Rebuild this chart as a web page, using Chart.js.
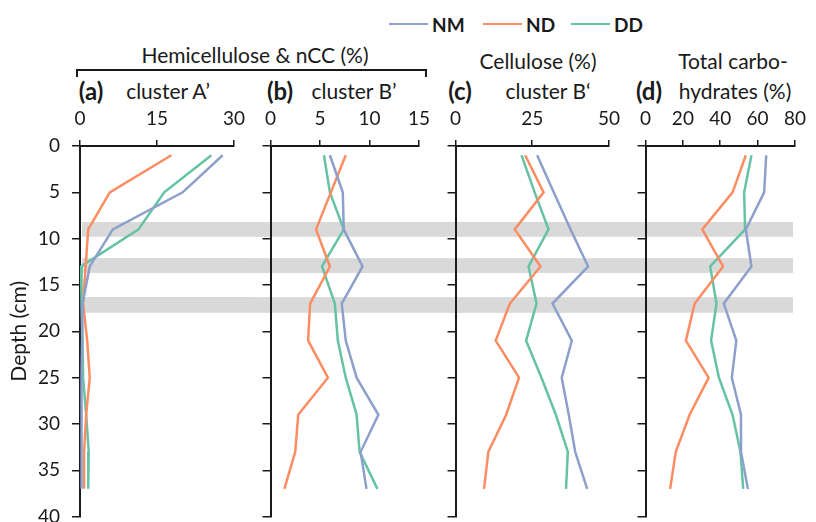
<!DOCTYPE html>
<html>
<head>
<meta charset="utf-8">
<script src="https://cdn.jsdelivr.net/npm/chart.js@4/dist/chart.umd.min.js"></script>
<style>
    body { margin: 0; background: #fff; font-family: Lato, sans-serif; color: #1a1a1a; }
    #wrap { position: relative; width: 816px; height: 522px; overflow: hidden; }
    #wrap canvas { position: absolute; top: 0; }
    .t { position: absolute; white-space: nowrap; font-size: 21px; line-height: 24px; transform: translate(-50%, -50%); }
    .b { font-weight: bold; font-size: 24px; }
    .lg { position: absolute; top: 12px; height: 24px; display: flex; align-items: center; font-weight: bold; font-size: 19px; }
    .lg i { display: inline-block; width: 39px; height: 0; border-top: 2.5px solid; margin-right: 4px; }
    #bracket { position: absolute; left: 76px; top: 69px; width: 347px; height: 6px; border: 2px solid #1a1a1a; border-bottom: none; }
</style>
</head>
<body>
<div id="wrap">
    <div class="lg" style="left:389px"><i style="border-color:#8DA0CB"></i>NM</div>
    <div class="lg" style="left:483px"><i style="border-color:#FC8D62"></i>ND</div>
    <div class="lg" style="left:571px"><i style="border-color:#66C2A5"></i>DD</div>

    <div class="t" style="left:255px;top:55px">Hemicellulose &amp; nCC (%)</div>
    <div id="bracket"></div>
    <div class="t b" style="left:91px;top:91px">(a)</div>
    <div class="t" style="left:168px;top:91px">cluster A’</div>
    <div class="t b" style="left:280px;top:91px">(b)</div>
    <div class="t" style="left:354px;top:91px">cluster B’</div>
    <div class="t b" style="left:460px;top:91px">(c)</div>
    <div class="t" style="left:538px;top:61px">Cellulose (%)</div>
    <div class="t" style="left:548px;top:91px">cluster B‘</div>
    <div class="t b" style="left:649px;top:91px">(d)</div>
    <div class="t" style="left:733px;top:61px">Total carbo-</div>
    <div class="t" style="left:735px;top:91px">hydrates (%)</div>

    <canvas id="c0"></canvas>
    <canvas id="c1"></canvas>
    <canvas id="c2"></canvas>
    <canvas id="c3"></canvas>
</div>
<script>
// sampling depths (cm)
const depths = [1, 5, 9, 13, 17, 21, 25, 29, 33, 37];

// (a) hemicellulose & nCC, cluster A'
const hemiA_NM = [27.8, 20.0, 6.4, 1.9, 0.5, 0.4, 0.3, 0.3, 0.3, 0.3];
const hemiA_ND = [17.8, 5.8, 1.6, 1.1, 0.6, 1.4, 1.9, 1.2, 0.8, 0.8];
const hemiA_DD = [25.6, 16.4, 11.4, 0.2, 0.3, 0.5, 0.6, 1.2, 1.7, 1.6];

// (b) hemicellulose & nCC, cluster B'
const hemiB_NM = [6.0, 7.3, 7.4, 9.3, 7.2, 7.6, 8.7, 10.9, 9.1, 9.7];
const hemiB_ND = [7.6, 6.1, 4.6, 6.0, 4.0, 3.8, 5.8, 2.8, 2.5, 1.4];
const hemiB_DD = [5.4, 6.0, 7.4, 5.2, 6.5, 6.8, 7.6, 8.7, 9.0, 10.8];

// (c) cellulose, cluster B'
const cell_NM = [26.6, 32.0, 37.5, 43.2, 31.6, 37.9, 34.6, 36.9, 39.0, 42.9];
const cell_ND = [22.7, 28.7, 19.3, 27.7, 17.7, 13.1, 20.7, 16.5, 10.7, 9.3];
const cell_DD = [21.5, 25.8, 30.3, 23.8, 26.4, 23.0, 28.0, 32.7, 36.6, 36.0];

// (d) total carbohydrates
const carb_NM = [64.6, 63.5, 53.7, 56.7, 41.9, 48.6, 46.2, 51.1, 51.1, 54.8];
const carb_ND = [53.7, 46.6, 30.4, 41.5, 26.3, 21.6, 33.8, 23.6, 16.2, 13.2];
const carb_DD = [56.7, 52.8, 53.3, 34.6, 38.0, 35.1, 39.3, 46.6, 50.8, 52.3];

const seriesNames = ['NM', 'ND', 'DD'];
const seriesColors = ['#8DA0CB', '#FC8D62', '#66C2A5'];

const axisMax = [30, 15, 50, 80];
const axisStep = [15, 5, 25, 20];

// shaded depth intervals (cm)
const bandTop = [8.2, 12.1, 16.3];
const bandBottom = [9.8, 13.7, 18.0];

const panelValues = [
    [hemiA_NM, hemiA_ND, hemiA_DD],
    [hemiB_NM, hemiB_ND, hemiB_DD],
    [cell_NM, cell_ND, cell_DD],
    [carb_NM, carb_ND, carb_DD],
];

// canvas placement: left edge, width, y-axis x, plot right edge
const layoutBoxes = [
    { left: 0, width: 255, axisX: 80, right: 240 },
    { left: 255, width: 185, axisX: 267.7, right: 426 },
    { left: 440, width: 190, axisX: 452.7, right: 611.7 },
    { left: 630, width: 186, axisX: 644, right: 802 },
];
const canvasHeight = 540;
const plotTop = 146;
const plotBottom = 516.7;
const ink = '#1a1a1a';
const tickFont = { family: 'Lato', size: 19 };

const bandPlugin = {
    id: 'bands',
    beforeDraw(chart, args, opts) {
        const { ctx, chartArea, scales } = chart;
        const x0 = opts.first ? chartArea.left + 2 : 0;
        const x1 = opts.last ? chartArea.right - 2 : chart.width;
        ctx.save();
        ctx.fillStyle = '#d9d9d9';
        bandTop.forEach((b, k) => {
            const y0 = scales.y.getPixelForValue(b);
            const y1 = scales.y.getPixelForValue(bandBottom[k]);
            ctx.fillRect(x0, y0, x1 - x0, y1 - y0);
        });
        ctx.restore();
    }
};

const makePanel = (i) => {
    const box = layoutBoxes[i];
    const canvas = document.getElementById('c' + i);
    canvas.width = box.width;
    canvas.height = canvasHeight;
    canvas.style.left = box.left + 'px';

    new Chart(canvas, {
        type: 'line',
        data: {
            datasets: seriesNames.map((name, k) => ({
                label: name,
                data: depths.map((d, j) => ({ x: panelValues[i][k][j], y: d })),
                borderColor: seriesColors[k],
                borderWidth: 2.5,
                pointRadius: 0,
                tension: 0,
                fill: false,
            })),
        },
        options: {
            responsive: false,
            animation: false,
            devicePixelRatio: 1,
            layout: { padding: { left: 0, top: 0, right: box.width - (box.right - box.left), bottom: canvasHeight - plotBottom } },
            plugins: {
                legend: { display: false },
                tooltip: { enabled: false },
                bands: { first: i === 0, last: i === 3 },
            },
            scales: {
                x: {
                    type: 'linear',
                    position: 'top',
                    min: 0,
                    max: axisMax[i],
                    ticks: { stepSize: axisStep[i], padding: 10, font: tickFont, color: ink, maxRotation: 0 },
                    grid: { drawOnChartArea: false, tickLength: 6, color: ink, lineWidth: 1.5 },
                    border: { color: ink, width: 2 },
                    afterFit: (s) => { s.height = plotTop; },
                },
                y: {
                    type: 'linear',
                    reverse: true,
                    min: 0,
                    max: 40,
                    ticks: { stepSize: 5, display: i === 0, padding: 12, font: tickFont, color: ink },
                    grid: { drawOnChartArea: false, tickLength: 8, color: ink, lineWidth: 1.5 },
                    border: { color: ink, width: 2 },
                    title: { display: i === 0, text: 'Depth (cm)', color: ink, font: { family: 'Lato', size: 21 }, padding: { top: 7, bottom: 0 } },
                    afterFit: (s) => { s.width = box.axisX - box.left; },
                },
            },
        },
        plugins: [bandPlugin],
    });
};

[0, 1, 2, 3].forEach(makePanel);
</script>
</body>
</html>
